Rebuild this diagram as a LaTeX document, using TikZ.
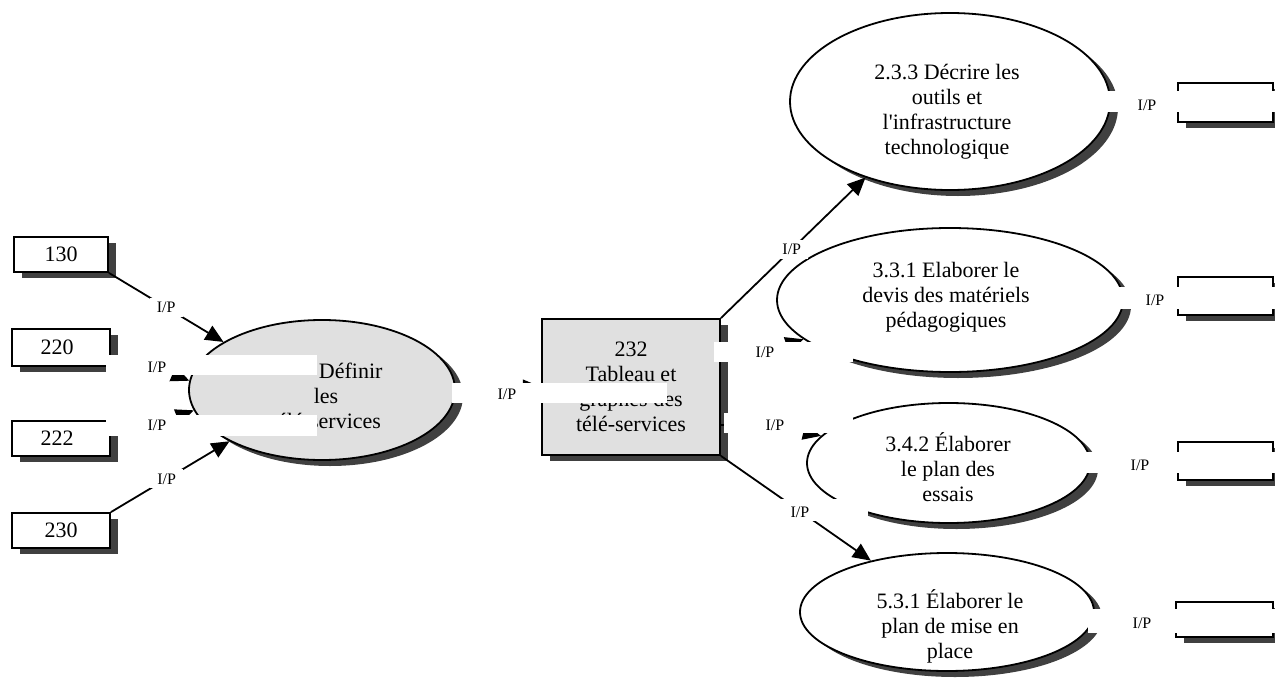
\documentclass[tikz,border=0pt]{standalone}
\usepackage{fontspec}
\setmainfont{Liberation Serif}[Ligatures=TeXOff]
\usetikzlibrary{shadows,arrows.meta,shapes.geometric,calc}
\definecolor{shd}{RGB}{64,64,64}
\definecolor{lgray}{RGB}{224,224,224}
\tikzset{
  box/.style={draw=black, line width=1.8pt, inner sep=0pt, rectangle, fill=white, font=\fontsize{22}{25}\selectfont},
  ell/.style={draw=black, line width=1.8pt, inner sep=0pt, ellipse},
  sh/.style={drop shadow={shadow xshift=8pt, shadow yshift=-6pt, fill=shd, opacity=1}},
  ptext/.style={font=\fontsize{22}{25}\selectfont, align=center, inner sep=0pt},
  con/.style={line width=1.8pt, -{Triangle[length=18pt,width=16pt]}},
  lbl/.style={font=\fontsize{16}{18}\selectfont, inner sep=0pt},
  lblw/.style={font=\fontsize{16}{18}\selectfont, fill=white, inner xsep=7pt, inner ysep=4pt},
  mask/.style={fill=white}
}
\begin{document}
\begin{tikzpicture}[x=1pt,y=-1pt]
\useasboundingbox (0,0) rectangle (1275,688);
% left boxes
\node[box,sh,minimum width=94pt,minimum height=35pt] (b130) at (61,254.5) {\raisebox{-3pt}{130}};
\node[box,sh,minimum width=98pt,minimum height=37pt] (b220) at (61,347.5) {\raisebox{-3pt}{220}\hspace*{8pt}};
\node[box,sh,minimum width=98pt,minimum height=35pt] (b222) at (61,438.5) {\raisebox{-6pt}{222}\hspace*{8pt}};
\node[box,sh,minimum width=98pt,minimum height=35pt] (b230) at (61,530.5) {\raisebox{-2pt}{230}};
% central process
\node[ell,sh,fill=lgray,minimum width=266pt,minimum height=140pt] (ell) at (322,390) {};
\node[ptext] (t231) at (326,396) {\phantom{2.3.1 }Définir\\les\\télé-services};
% table box
\node[box,sh,fill=lgray,minimum width=178pt,minimum height=136pt,align=center] (b232) at (631,387) {232\\Tableau et\\graphes des\\télé-services};
% right ellipses
\node[ell,sh,fill=white,minimum width=320pt,minimum height=177pt] (e233) at (950,101.5) {};
\node[ptext] (t233) at (947,112) {2.3.3 Décrire les\\outils et\\l'infrastructure\\technologique};
\node[ell,sh,fill=white,minimum width=346pt,minimum height=144pt] (e331) at (950,300) {};
\node[ptext] (t331) at (946,297) {3.3.1 Elaborer le\\devis des matériels\\pédagogiques};
\node[ell,sh,fill=white,minimum width=283pt,minimum height=120pt] (e342) at (948.5,463) {};
\node[ptext] (t342) at (948,467) {3.4.2 Élaborer\\le plan des\\essais};
\node[ell,sh,fill=white,minimum width=294pt,minimum height=118pt] (e531) at (947,612) {};
\node[ptext] (t531) at (950,626) {5.3.1 Élaborer le\\plan de mise en\\place};
% right boxes
\node[box,sh,minimum width=95pt,minimum height=39pt] (r1) at (1225.5,102.5) {};
\node[box,sh,minimum width=95pt,minimum height=38pt] (r2) at (1225.5,296) {};
\node[box,sh,minimum width=95pt,minimum height=38pt] (r3) at (1225.5,461) {};
\node[box,sh,minimum width=97pt,minimum height=35pt] (r4) at (1224.5,619.5) {};
% label positions of hidden connectors
\coordinate (p220) at (157,367);
\coordinate (p222) at (157,425);
\coordinate (pC) at (507,394);
\coordinate (pD) at (765,352);
\coordinate (pE) at (775,425);
\coordinate (pF) at (800,512);
\coordinate (p1) at (1147,105);
\coordinate (p2) at (1155,300);
\coordinate (p3) at (1140,465);
\coordinate (p4) at (1142,623);
% connectors
\draw[con] (b130.south east) -- node[lblw,pos=0.5] (l130) {I/P} (ell.154);
\draw[con] (b230.north east) -- node[lblw,pos=0.47] (l230) {I/P} (ell.209);
\draw[con] (b220.south east) -- (p220) -- (ell.176);
\draw[con] (b222.north east) -- (p222) -- (ell.189);
\draw[con] (ell.east) -- (b232.west);
\draw[con] (b232.north east) -- node[lblw,pos=0.49] (lA) {I/P} (e233.222);
\draw[con] (b232.east |- pD) -- (pD) -- (e331.195);
\draw[con] (b232.east |- pE) -- (pE) -- (e342.168);
\draw[con] (b232.south east) -- (e531.146);
\draw[con] (e233.east) -- (r1.west);
\draw[con] (e331.east) -- (r2.west);
\draw[con] (e342.east) -- (r3.west);
\draw[con] (e531.east) -- (r4.west);
% white label backgrounds that hide parts of the drawing
\fill[mask] (106,355) rectangle (317,375);
\fill[mask] (106,415) rectangle (317,436);
\fill[mask] (452,383) rectangle (667,403);
\fill[mask] (714,342) rectangle (853,362);
\fill[mask] (724,413) rectangle (853,433);
\fill[mask] (772,499) rectangle (868,521);
\fill[mask] (1098,91) rectangle (1276,112);
\fill[mask] (1112,287) rectangle (1276,309);
\fill[mask] (1085,452) rectangle (1276,473);
\fill[mask] (1088,609) rectangle (1276,633);
% labels
\node[lbl] (l220) at (p220) {I/P};
\node[lbl] (l222) at (p222) {I/P};
\node[lbl] (lC) at (pC) {I/P};
\node[lbl] (lD) at (pD) {I/P};
\node[lbl] (lE) at (pE) {I/P};
\node[lbl] (lF) at (pF) {I/P};
\node[lbl] (l1) at (p1) {I/P};
\node[lbl] (l2) at (p2) {I/P};
\node[lbl] (l3) at (p3) {I/P};
\node[lbl] (l4) at (p4) {I/P};
\end{tikzpicture}
\end{document}
